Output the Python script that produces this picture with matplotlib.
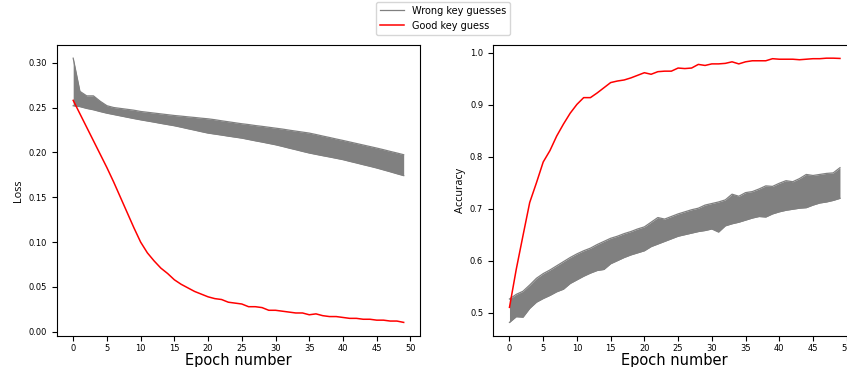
import matplotlib
matplotlib.use("Agg")
import numpy as np
import matplotlib.pyplot as plt
from matplotlib import font_manager

epochs = np.arange(50)
xticks = [0, 5, 10, 15, 20, 25, 30, 35, 40, 45, 50]
loss_ticks = [0.00, 0.05, 0.10, 0.15, 0.20, 0.25, 0.30]
acc_ticks = [0.5, 0.6, 0.7, 0.8, 0.9, 1.0]

# good key guess (red)
loss_good = [0.258, 0.243, 0.228, 0.213, 0.198, 0.183, 0.167, 0.150, 0.133, 0.116,
             0.100, 0.088, 0.079, 0.071, 0.065, 0.058, 0.053, 0.049, 0.045, 0.042,
             0.039, 0.037, 0.036, 0.033, 0.032, 0.031, 0.028, 0.028, 0.027, 0.024,
             0.024, 0.023, 0.022, 0.021, 0.021, 0.019, 0.020, 0.018, 0.017, 0.017,
             0.016, 0.015, 0.015, 0.014, 0.014, 0.013, 0.013, 0.012, 0.012, 0.0105]
acc_good = [0.510, 0.583, 0.648, 0.712, 0.750, 0.790, 0.812, 0.840, 0.863, 0.884,
            0.901, 0.914, 0.914, 0.923, 0.933, 0.943, 0.946, 0.948, 0.952, 0.957,
            0.962, 0.959, 0.964, 0.965, 0.965, 0.971, 0.970, 0.971, 0.978, 0.976,
            0.979, 0.979, 0.980, 0.983, 0.979, 0.983, 0.985, 0.985, 0.985, 0.989,
            0.988, 0.988, 0.988, 0.987, 0.988, 0.989, 0.989, 0.990, 0.990, 0.9895]

# wrong key guesses (gray band): upper and lower edges
loss_wrong_hi = [0.305, 0.268, 0.263, 0.263, 0.257, 0.252, 0.250, 0.249, 0.248, 0.247,
                 0.2456, 0.2447, 0.2438, 0.2429, 0.2420, 0.2411, 0.2404, 0.2396, 0.2389, 0.2381,
                 0.2374, 0.2364, 0.2352, 0.2341, 0.2330, 0.2319, 0.2310, 0.2299, 0.2290, 0.2280,
                 0.2270, 0.2260, 0.2248, 0.2237, 0.2226, 0.2215, 0.2199, 0.2182, 0.2166, 0.2149,
                 0.2133, 0.2116, 0.2099, 0.2082, 0.2065, 0.2048, 0.2030, 0.2011, 0.1993, 0.1974]
loss_wrong_lo = [0.252, 0.251, 0.249, 0.2475, 0.2455, 0.2437, 0.2422, 0.2407, 0.2392, 0.2377,
                 0.2363, 0.2350, 0.2337, 0.2323, 0.2310, 0.2297, 0.2281, 0.2264, 0.2248, 0.2231,
                 0.2215, 0.2204, 0.2193, 0.2181, 0.2170, 0.2159, 0.2144, 0.2129, 0.2115, 0.2100,
                 0.2085, 0.2067, 0.2048, 0.2030, 0.2011, 0.1993, 0.1978, 0.1963, 0.1949, 0.1934,
                 0.1919, 0.1900, 0.1882, 0.1863, 0.1845, 0.1826, 0.1805, 0.1784, 0.1762, 0.1741]
acc_wrong_hi = [0.526, 0.535, 0.541, 0.553, 0.566, 0.575, 0.582, 0.590, 0.598, 0.606,
                0.613, 0.619, 0.624, 0.631, 0.637, 0.643, 0.647, 0.652, 0.656, 0.661,
                0.665, 0.674, 0.683, 0.680, 0.685, 0.690, 0.694, 0.698, 0.701, 0.707,
                0.710, 0.713, 0.717, 0.728, 0.724, 0.731, 0.733, 0.738, 0.744, 0.743,
                0.749, 0.754, 0.752, 0.758, 0.766, 0.764, 0.766, 0.768, 0.769, 0.779]
acc_wrong_lo = [0.481, 0.492, 0.491, 0.508, 0.520, 0.527, 0.533, 0.540, 0.545, 0.556,
                0.563, 0.570, 0.576, 0.581, 0.583, 0.594, 0.600, 0.606, 0.611, 0.615,
                0.619, 0.627, 0.632, 0.637, 0.642, 0.647, 0.650, 0.653, 0.656, 0.658,
                0.661, 0.655, 0.667, 0.671, 0.674, 0.678, 0.682, 0.685, 0.684, 0.690,
                0.694, 0.697, 0.699, 0.701, 0.702, 0.707, 0.711, 0.713, 0.716, 0.720]

# the y labels use a narrow font in the original
installed = {f.name for f in font_manager.fontManager.ttflist}
if 'Liberation Sans Narrow' in installed:
    ylab_font, ylab_size = 'Liberation Sans Narrow', 9.5
else:
    ylab_font, ylab_size = 'Open Sans', 7.8

fig = plt.figure(figsize=(8.47, 3.67), dpi=100)
ax1 = fig.add_axes([0.0669, 0.0856, 0.4292, 0.7918])
ax2 = fig.add_axes([0.582, 0.0856, 0.4292, 0.7918])

for ax, hi, lo, good, yt, name in [(ax1, loss_wrong_hi, loss_wrong_lo, loss_good, loss_ticks, 'Loss'),
                                   (ax2, acc_wrong_hi, acc_wrong_lo, acc_good, acc_ticks, 'Accuracy')]:
    ax.fill_between(epochs, lo, hi, color='gray', lw=0)
    wrong, = ax.plot(epochs, hi, color='gray', lw=0.9)
    ax.plot(epochs, lo, color='gray', lw=0.9)
    good_line, = ax.plot(epochs, good, color='red', lw=1.1)
    ax.set_xticks(xticks)
    ax.set_yticks(yt)
    ax.tick_params(labelsize=6)
    ax.tick_params(axis='x', pad=2.5)
    ax.set_xlabel('Epoch number', fontsize=10.5, labelpad=0)
    ax.set_ylabel(name, fontsize=ylab_size, family=ylab_font, labelpad=3)

ax1.set_ylim(-0.0042, 0.3197)
ax2.set_ylim(0.4556, 1.0154)
for ax in (ax1, ax2):
    ax.set_xlim(-2.45, 51.45)

fig.legend([wrong, good_line], ['Wrong key guesses', 'Good key guess'],
           loc='upper center', bbox_to_anchor=(0.523, 1.0), fontsize=7,
           borderaxespad=0.2, handlelength=2.5)

fig.savefig('out.png', dpi=100)
